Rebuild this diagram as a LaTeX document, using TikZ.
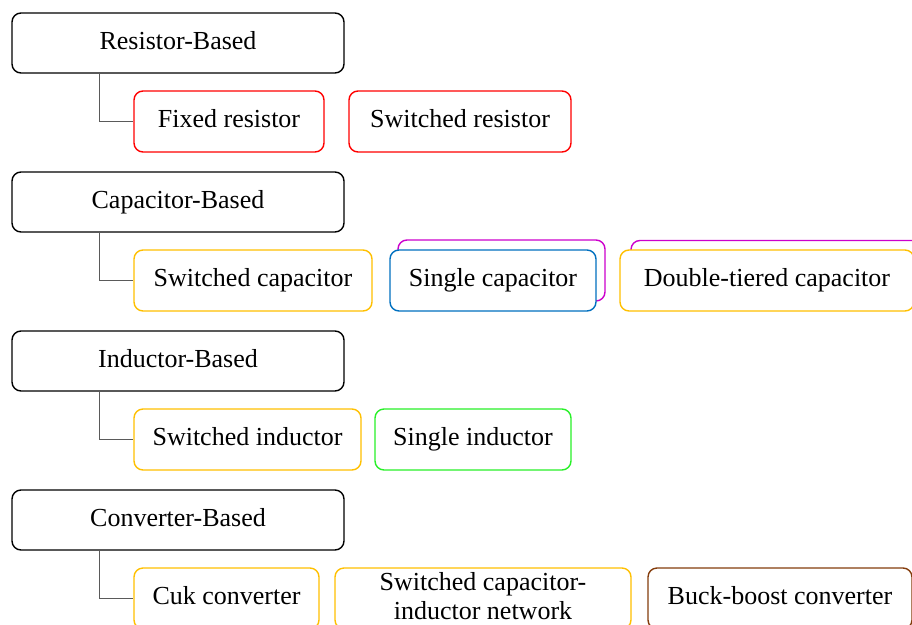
\documentclass[tikz,border=0pt]{standalone}
\usepackage{fontspec}
\setmainfont{Liberation Serif}
\definecolor{cred}{RGB}{255,0,0}
\definecolor{cyel}{RGB}{255,192,0}
\definecolor{cblue}{RGB}{0,112,192}
\definecolor{cmag}{RGB}{204,0,204}
\definecolor{cgreen}{RGB}{40,240,40}
\definecolor{cbrown}{RGB}{132,60,12}
\definecolor{cline}{RGB}{90,90,90}
\tikzset{
  box/.style={draw, rounded corners=9pt, line width=1.4pt, fill=white, inner sep=0pt,
    minimum height=61pt, align=center, font=\fontsize{26}{29}\selectfont},
  one/.style={box, text height=18pt, text depth=6pt},
  parent/.style={one, draw=black, minimum width=332pt, minimum height=60pt},
  conn/.style={draw=cline, line width=1.1pt},
}
\begin{document}
\begin{tikzpicture}[x=1pt,y=-1pt]
\useasboundingbox (0,0) rectangle (912,624);
\clip (0,0) rectangle (912,624);
\node[parent] (rb) at (178,43) {Resistor-Based};
\node[one, draw=cred, minimum width=190pt] (fr) at (229,121.5) {Fixed resistor};
\node[one, draw=cred, minimum width=222pt] (sr) at (460,121.5) {Switched resistor};

\node[parent] (cb) at (178,202) {Capacitor-Based};
\node[one, draw=cyel, minimum width=238pt] (sc) at (253,280.5) {Switched capacitor};
\node[one, draw=cmag, minimum width=207pt] (sicb) at (501.5,270.5) {};
\node[one, draw=cblue, minimum width=206pt] (sic) at (493,280.5) {Single capacitor};
\node[one, draw=cmag, minimum width=294pt] (dtb) at (778,271) {};
\node[one, draw=cyel, minimum width=294pt] (dt) at (767,280.5) {Double-tiered capacitor};

\node[parent] (ib) at (178,361) {Inductor-Based};
\node[one, draw=cyel, minimum width=227pt] (si) at (247.5,439.5) {Switched inductor};
\node[one, draw=cgreen, minimum width=196pt] (sind) at (473,439.5) {Single inductor};

\node[parent] (vb) at (178,520) {Converter-Based};
\node[one, draw=cyel, minimum width=185pt] (cuk) at (226.5,598.5) {Cuk converter};
\node[box, draw=cyel, minimum width=296pt] (scin) at (483,598.5) {Switched capacitor-\\inductor network\vphantom{p}};
\node[one, draw=cbrown, minimum width=264pt] (bb) at (780,598.5) {Buck-boost converter};

\draw[conn] (rb.south west) ++(88,0) |- (fr.west);
\draw[conn] (cb.south west) ++(88,0) |- (sc.west);
\draw[conn] (ib.south west) ++(88,0) |- (si.west);
\draw[conn] (vb.south west) ++(88,0) |- (cuk.west);
\end{tikzpicture}
\end{document}
